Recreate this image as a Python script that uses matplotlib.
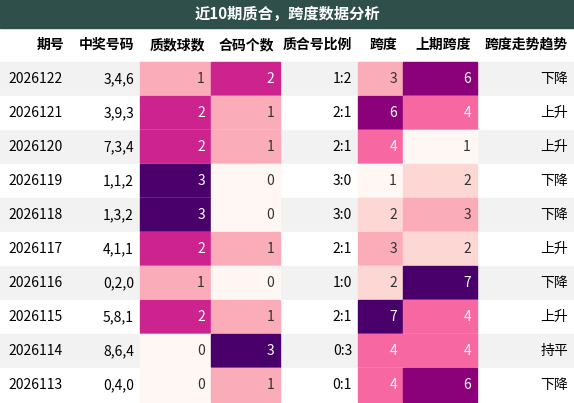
import matplotlib
matplotlib.use("Agg")
import matplotlib.pyplot as plt
from matplotlib.patches import Rectangle
from matplotlib import cm, colors

plt.rcParams["font.family"] = ["Noto Sans CJK SC", "DejaVu Sans"]

TITLE = "近10期质合，跨度数据分析"
HEADERS = ["期号", "中奖号码", "质数球数", "合码个数", "质合号比例", "跨度", "上期跨度", "跨度走势趋势"]
issues = ["2026122", "2026121", "2026120", "2026119", "2026118",
          "2026117", "2026116", "2026115", "2026114", "2026113"]
numbers = ["3,4,6", "3,9,3", "7,3,4", "1,1,2", "1,3,2", "4,1,1", "0,2,0", "5,8,1", "8,6,4", "0,4,0"]
primes = [1, 2, 2, 3, 3, 2, 1, 2, 0, 0]
composites = [2, 1, 1, 0, 0, 1, 0, 1, 3, 1]
ratios = ["1:2", "2:1", "2:1", "3:0", "3:0", "2:1", "1:0", "2:1", "0:3", "0:1"]
spans = [3, 6, 4, 1, 2, 3, 2, 7, 4, 4]
prev_spans = [6, 4, 1, 2, 3, 2, 7, 4, 4, 6]
trends = ["下降", "上升", "上升", "下降", "下降", "上升", "下降", "上升", "持平", "下降"]

W, H = 574, 403
col_edges = [0, 70, 140, 211, 280, 358, 403, 477, 574]
title_h, header_h, row_h = 28, 34, 34

fig = plt.figure(figsize=(W / 100, H / 100), dpi=100)
ax = fig.add_axes([0, 0, 1, 1])
ax.set_xlim(0, W)
ax.set_ylim(H, 0)
ax.axis("off")

cmap = matplotlib.colormaps["RdPu"]
norm_pc = colors.Normalize(0, 3)
norm_span = colors.Normalize(1, 7)

ax.add_patch(Rectangle((0, 0), W, title_h, color="#2f4f4a"))
ax.text(W / 2, title_h / 2, TITLE, color="white", fontsize=11, fontweight="bold",
        ha="center", va="center")

y_head = title_h
for j, h in enumerate(HEADERS):
    ax.text(col_edges[j + 1] - 6, y_head + header_h / 2, h, fontsize=10, fontweight="bold",
            ha="right", va="center")

for i in range(len(issues)):
    y0 = title_h + header_h + i * row_h
    bg = "#f2f2f2" if i % 2 == 0 else "white"
    ax.add_patch(Rectangle((0, y0), W, row_h, color=bg))
    vals = [issues[i], numbers[i], primes[i], composites[i], ratios[i],
            spans[i], prev_spans[i], trends[i]]
    for j, v in enumerate(vals):
        tc = "black"
        if j in (2, 3, 5, 6):
            norm = norm_pc if j in (2, 3) else norm_span
            c = cmap(norm(v))
            ax.add_patch(Rectangle((col_edges[j], y0), col_edges[j + 1] - col_edges[j], row_h, color=c))
            lum = 0.299 * c[0] + 0.587 * c[1] + 0.114 * c[2]
            tc = "white" if lum < 0.75 else "#333333"
        if j == 0:
            ax.text(col_edges[0] + 8, y0 + row_h / 2, str(v), fontsize=10, ha="left", va="center", color=tc)
        else:
            ax.text(col_edges[j + 1] - 6, y0 + row_h / 2, str(v), fontsize=10, ha="right", va="center", color=tc)

fig.savefig("out.png", dpi=100)
